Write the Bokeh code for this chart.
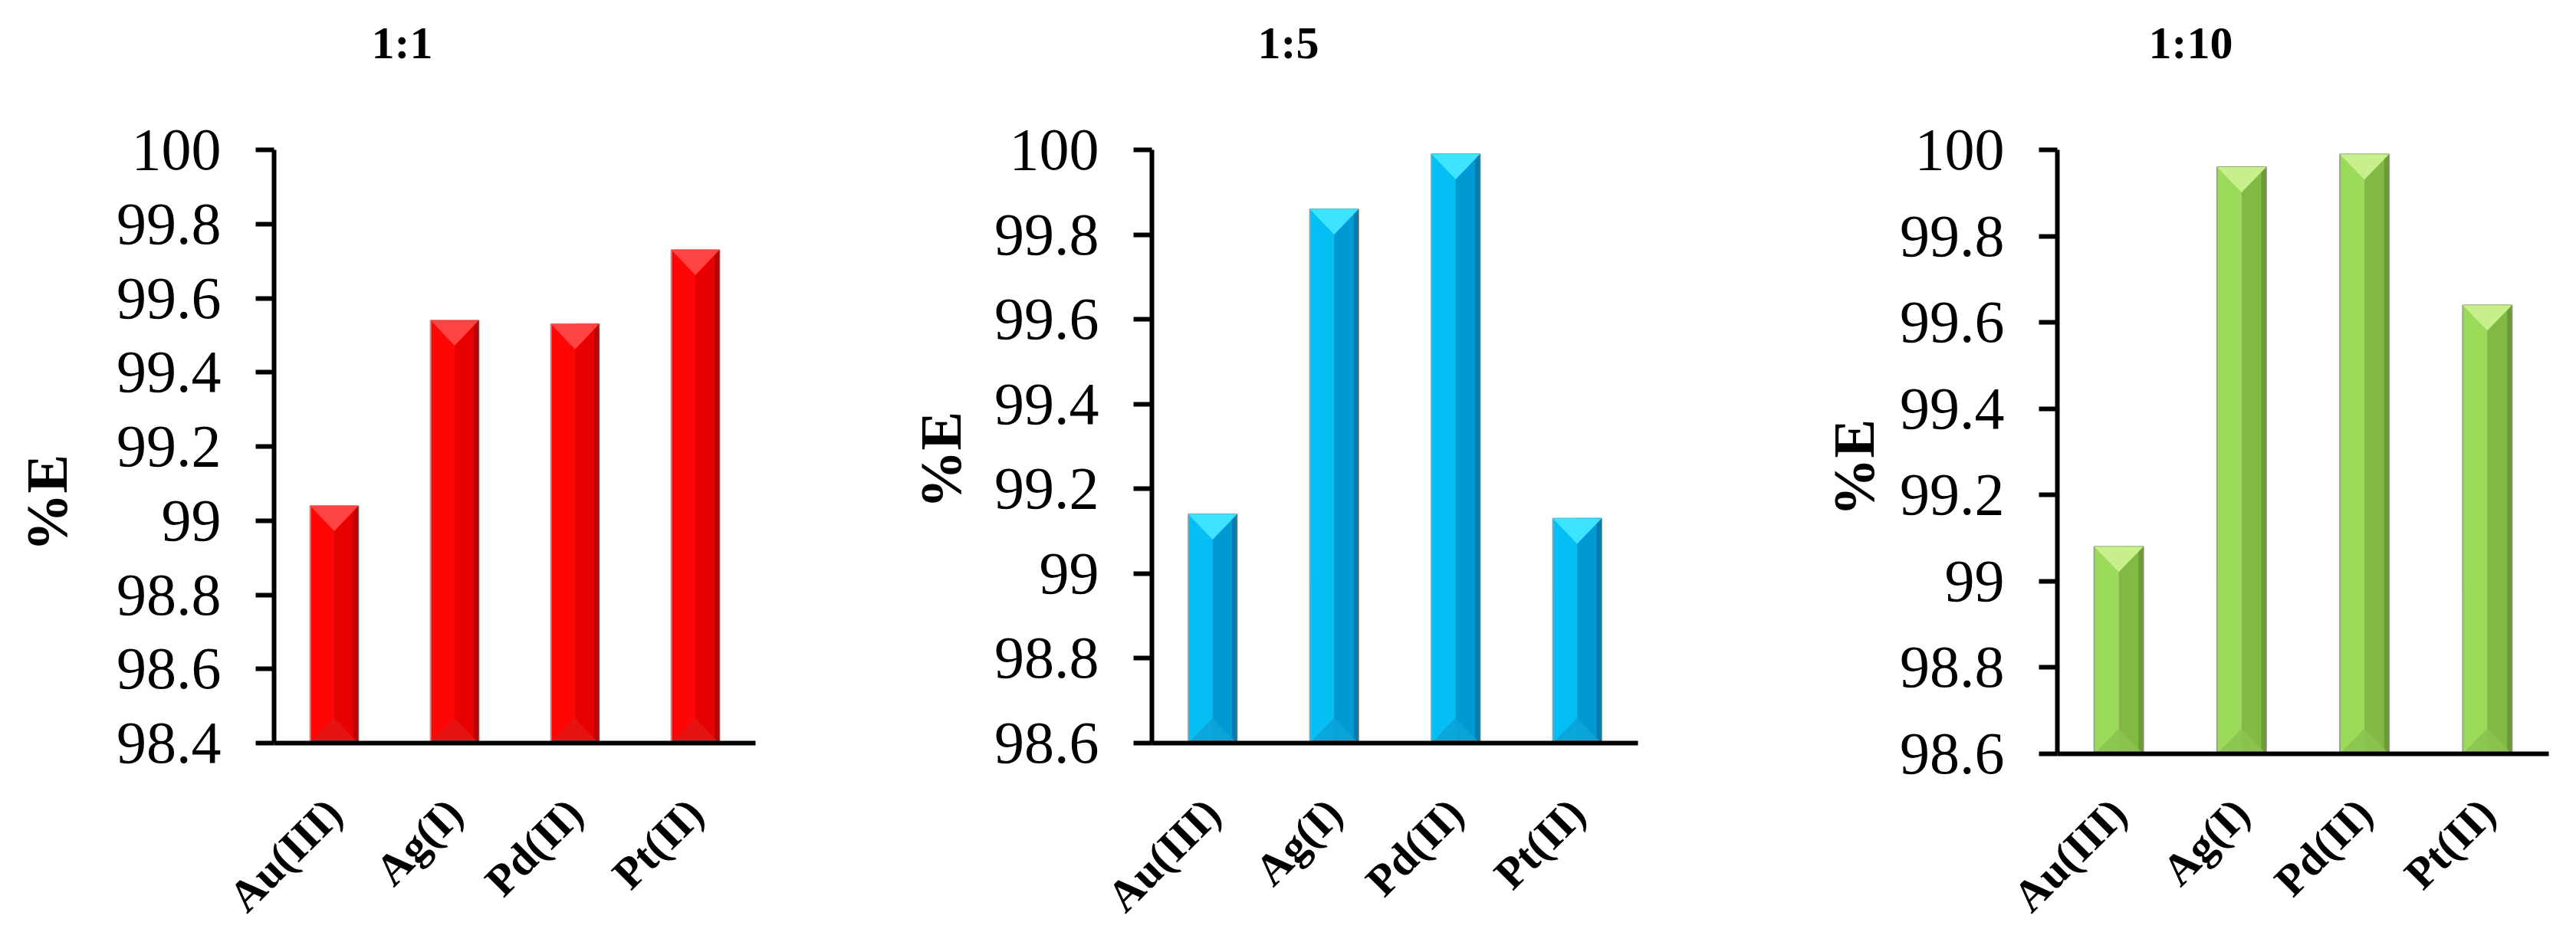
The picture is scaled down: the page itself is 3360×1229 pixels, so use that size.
from math import pi
from bokeh.plotting import figure
from bokeh.layouts import row
from bokeh.models import Range1d, FixedTicker, Title, LinearAxis
from bokeh.embed import file_html
from bokeh.resources import INLINE

# ---------------- data ----------------
metals = ["Au(III)", "Ag(I)", "Pd(II)", "Pt(II)"]
ratios = ["1:1", "1:5", "1:10"]
e_1_1 = [99.04, 99.54, 99.53, 99.73]
e_1_5 = [99.14, 99.86, 99.99, 99.13]
e_1_10 = [99.08, 99.96, 99.99, 99.64]
yticks_1_1 = [98.4, 98.6, 98.8, 99.0, 99.2, 99.4, 99.6, 99.8, 100.0]
yticks_1_5 = [98.6, 98.8, 99.0, 99.2, 99.4, 99.6, 99.8, 100.0]
yticks_1_10 = [98.6, 98.8, 99.0, 99.2, 99.4, 99.6, 99.8, 100.0]
y_label = "%E"

# ---------------- style ----------------
FONT = "Liberation Serif"
palettes = [
    # left, right, edge, top, bottom
    ("#FF0606", "#E60000", "#B30000", "#FF4444", "#E41414"),
    ("#05BEF4", "#0099D2", "#0077A6", "#3DE4FF", "#0AA4D8"),
    ("#9BDB5A", "#82B944", "#66952E", "#C7F08C", "#8BC44E"),
]
# per-panel layout in pixels
layouts = [
    dict(left=357, fw=628, right=135, fh=774, bottom=259, title_off=127,
         ylab_gap=46, ylab_off=250, xl_standoff=82),
    dict(left=382, fw=634, right=104, fh=774, bottom=259, title_off=138,
         ylab_gap=25, ylab_off=306, xl_standoff=82),
    dict(left=443, fw=641, right=30, fh=788, bottom=245, title_off=119,
         ylab_gap=15, ylab_off=310, xl_standoff=68),
]
TOP = 195
TITLE_GAP = 107
BAR_W = 0.4
TRI_PX = 33


def spacer(gap, at):
    # label-less axis whose single white tick only reserves space in a side panel
    return LinearAxis(ticker=FixedTicker(ticks=[at]), axis_label=None,
                      major_label_overrides={at: ""},
                      major_tick_out=gap, major_tick_in=0, major_tick_line_color="white",
                      major_tick_line_width=1,
                      minor_tick_out=0, minor_tick_in=0, minor_tick_line_color=None,
                      axis_line_color=None, major_label_standoff=0,
                      major_label_text_font_size="0px")


def panel(title, values, yticks, pal, lay):
    ymin, ymax = yticks[0], yticks[-1]
    n = len(metals)
    p = figure(
        title=None,
        frame_width=lay["fw"], frame_height=lay["fh"],
        min_border_left=lay["left"], min_border_right=lay["right"],
        min_border_top=TOP, min_border_bottom=lay["bottom"],
        x_range=Range1d(0, n), y_range=Range1d(ymin, ymax),
        output_backend="svg", toolbar_location=None,
    )
    p.outline_line_color = None
    p.grid.visible = False
    p.background_fill_color = "white"
    p.border_fill_color = "white"

    xs = [i + 0.5 for i in range(n)]
    c_left, c_right, c_edge, c_top, c_bot = pal
    # main bar
    p.vbar(x=xs, top=values, bottom=ymin, width=BAR_W, fill_color=c_left,
           line_color="#9E9E9E", line_width=2)
    # right half (shaded)
    p.vbar(x=[x + BAR_W / 4 for x in xs], top=values, bottom=ymin, width=BAR_W / 2,
           fill_color=c_right, line_color=None)
    # dark right edge
    p.vbar(x=[x + BAR_W / 2 - BAR_W * 0.05 for x in xs], top=values, bottom=ymin,
           width=BAR_W * 0.1, fill_color=c_edge, line_color=None, fill_alpha=0.8)
    # bevel triangles
    d = TRI_PX * (ymax - ymin) / lay["fh"]
    top_xs = [[x - BAR_W / 2, x + BAR_W / 2, x] for x in xs]
    top_ys = [[v, v, v - d] for v in values]
    p.patches(top_xs, top_ys, fill_color=c_top, line_color=None)
    bot_ys = [[ymin, ymin, ymin + d] for _ in values]
    p.patches(top_xs, bot_ys, fill_color=c_bot, line_color=None, fill_alpha=0.9)

    # y axis
    ya = p.yaxis[0]
    ya.ticker = FixedTicker(ticks=yticks)
    ya.major_label_overrides = {t: f"{t:g}" for t in yticks}
    ya.axis_line_width = 6
    ya.axis_line_color = "black"
    ya.major_tick_line_width = 6
    ya.major_tick_out = 24
    ya.major_tick_in = 0
    ya.minor_tick_line_color = None
    ya.major_label_standoff = 45
    ya.major_label_text_font = FONT
    ya.major_label_text_font_size = "78px"
    ya.major_label_text_color = "black"

    # x axis
    xa = p.xaxis[0]
    xa.ticker = FixedTicker(ticks=xs)
    xa.major_label_overrides = {x: m for x, m in zip(xs, metals)}
    xa.axis_line_width = 6
    xa.axis_line_color = "black"
    xa.major_tick_line_color = None
    xa.major_tick_out = 0
    xa.major_tick_in = 0
    xa.minor_tick_line_color = None
    xa.major_label_orientation = pi / 4
    xa.major_label_standoff = lay["xl_standoff"]
    xa.major_label_text_font = FONT
    xa.major_label_text_font_style = "bold"
    xa.major_label_text_font_size = "58px"
    xa.major_label_text_color = "black"

    # panel title (above), lifted by a spacer
    p.add_layout(spacer(TITLE_GAP, n), "above")
    p.add_layout(Title(text=title, align="left", offset=lay["title_off"],
                       vertical_align="bottom", standoff=0,
                       text_font=FONT, text_font_style="bold", text_font_size="60px",
                       text_color="black"), "above")

    # y-axis title (left), shifted by a spacer
    p.add_layout(spacer(lay["ylab_gap"], ymax), "left")
    p.add_layout(Title(text=y_label, align="left", offset=lay["ylab_off"],
                       vertical_align="bottom", standoff=0,
                       text_font=FONT, text_font_style="bold", text_font_size="76px",
                       text_color="black"), "left")
    return p


series = [e_1_1, e_1_5, e_1_10]
ticks = [yticks_1_1, yticks_1_5, yticks_1_10]
figs = [panel(ratios[i], series[i], ticks[i], palettes[i], layouts[i]) for i in range(3)]
lay = row(*figs)
open("out.html", "w").write(file_html(lay, INLINE))
